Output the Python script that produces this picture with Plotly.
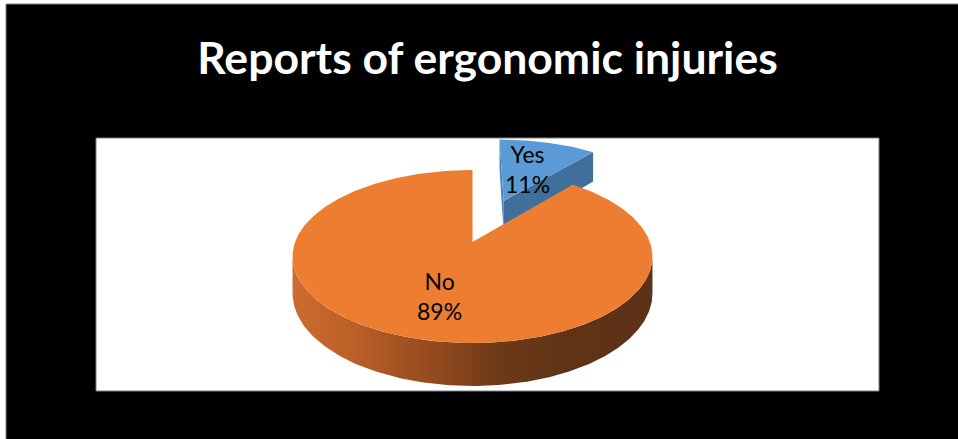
import numpy as np
import plotly.graph_objects as go

# ---- data ----
categories = ["Yes", "No"]
values = [11, 89]
top_colors = ["#5B9BD5", "#ED7D31"]
title_text = "Reports of ergonomic injuries"

# ---- style / projection constants (3D pie look) ----
W, H = 958, 439
CX, CY, K = 472.5, 242.0, 177.4
KP = 0.168          # perspective strength
SPHI, CPHI = 0.474, 0.88
DEPTH = 0.229       # thickness of the pie
EXPLODE = {"Yes": 0.565, "No": 0.0}
LABEL_SHIFT = {"Yes": 1, "No": -11}   # pixel nudges of the data labels


def proj(X, Y, Z):
    X = np.asarray(X, float)
    Y = np.asarray(Y, float)
    Z = np.asarray(Z, float) * np.ones_like(X)
    d = 1 + KP * Y
    return CX + K * X / d, CY - K * (Y * SPHI + Z * CPHI) / d


total = float(sum(values))
fig = go.Figure()

# slice angle ranges: start at top (90 deg), clockwise
start = 90.0
slices = []
for cat, v, col in zip(categories, values, top_colors):
    sweep = 360.0 * v / total
    a0, a1 = start, start - sweep
    mid = np.radians((a0 + a1) / 2)
    e = EXPLODE[cat]
    ox, oy = e * np.cos(mid), e * np.sin(mid)
    slices.append(dict(cat=cat, v=v, col=col, a0=a0, a1=a1, ox=ox, oy=oy, mid=mid))
    start = a1


def add_poly(xs, ys, color=None, gradient=None):
    kw = dict(x=list(xs) + [xs[0]], y=list(ys) + [ys[0]], mode="lines",
              line=dict(width=0), fill="toself", hoverinfo="skip", showlegend=False)
    if gradient is not None:
        kw["fillgradient"] = gradient
    else:
        kw["fillcolor"] = color
    fig.add_trace(go.Scatter(**kw))


# --- Yes slice (back, exploded) ---
s = slices[0]
for ang, colr in [(s["a0"], "rgb(78,132,186)"), (s["a1"], "rgb(64,111,156)")]:
    t = np.radians(ang)
    X = np.array([s["ox"], s["ox"] + np.cos(t), s["ox"] + np.cos(t), s["ox"]])
    Y = np.array([s["oy"], s["oy"] + np.sin(t), s["oy"] + np.sin(t), s["oy"]])
    Z = np.array([0, 0, -DEPTH, -DEPTH])
    xs, ys = proj(X, Y, Z)
    add_poly(xs, ys, colr)
t = np.radians(np.linspace(s["a0"], s["a1"], 80))
X = np.concatenate([[s["ox"]], s["ox"] + np.cos(t)])
Y = np.concatenate([[s["oy"]], s["oy"] + np.sin(t)])
xs, ys = proj(X, Y, 0)
add_poly(xs, ys, s["col"])

# --- No slice (front) ---
s = slices[1]
asn = np.degrees(np.arcsin(KP))
t = np.radians(np.linspace(180 + asn, 360 - asn, 200))
X = np.concatenate([np.cos(t), np.cos(t)[::-1]])
Y = np.concatenate([np.sin(t), np.sin(t)[::-1]])
Z = np.concatenate([np.zeros_like(t), -DEPTH * np.ones_like(t)])
xs, ys = proj(X, Y, Z)
add_poly(xs, ys, gradient=dict(
    type="horizontal",
    colorscale=[[0, "rgb(205,108,48)"], [0.16, "rgb(188,96,40)"],
                [0.38, "rgb(150,76,31)"], [0.58, "rgb(108,57,24)"],
                [0.75, "rgb(96,51,22)"], [1, "rgb(92,49,21)"]]))
t = np.radians(np.linspace(s["a0"], s["a1"], 400))
X = np.concatenate([[s["ox"]], s["ox"] + np.cos(t)])
Y = np.concatenate([[s["oy"]], s["oy"] + np.sin(t)])
xs, ys = proj(X, Y, 0)
add_poly(xs, ys, s["col"])

# --- data labels ---
annotations = []
for s in slices:
    r = 0.5
    lx, ly = proj([s["ox"] + r * np.cos(s["mid"])], [s["oy"] + r * np.sin(s["mid"])], 0)
    pct = round(100 * s["v"] / total)
    annotations.append(dict(
        x=float(lx[0]), y=float(ly[0]), xref="x", yref="y",
        text=f"{s['cat']}<br>{pct}%", showarrow=False,
        xanchor="center", yanchor="middle", yshift=LABEL_SHIFT[s["cat"]],
        font=dict(family="Lato", size=23, color="black")))

fig.update_layout(
    width=W, height=H,
    margin=dict(l=0, r=0, t=0, b=0),
    paper_bgcolor="black",
    plot_bgcolor="rgba(0,0,0,0)",
    title=dict(text=f"<b>{title_text}</b>", x=487.5 / W, xanchor="center",
               y=1 - 58 / H, yanchor="middle",
               font=dict(family="Lato", size=44.5, color="white")),
    xaxis=dict(range=[0, W], visible=False, domain=[0, 1], fixedrange=True),
    yaxis=dict(range=[H, 0], visible=False, domain=[0, 1], fixedrange=True),
    annotations=annotations,
    shapes=[
        dict(type="rect", xref="x", yref="y", x0=96, x1=879, y0=138, y1=391,
             fillcolor="white", line=dict(color="rgb(128,128,128)", width=1), layer="below"),
        dict(type="rect", xref="x", yref="y", x0=0, x1=6, y0=0, y1=H,
             fillcolor="white", line=dict(width=0), layer="below"),
        dict(type="rect", xref="x", yref="y", x0=0, x1=W, y0=0, y1=4,
             fillcolor="white", line=dict(width=0), layer="below"),
        dict(type="line", xref="x", yref="y", x0=6, x1=6, y0=4, y1=H,
             line=dict(color="rgb(128,128,128)", width=1), layer="below"),
        dict(type="line", xref="x", yref="y", x0=6, x1=W, y0=4, y1=4,
             line=dict(color="rgb(128,128,128)", width=1), layer="below"),
    ],
)

fig.write_html("out.html")
